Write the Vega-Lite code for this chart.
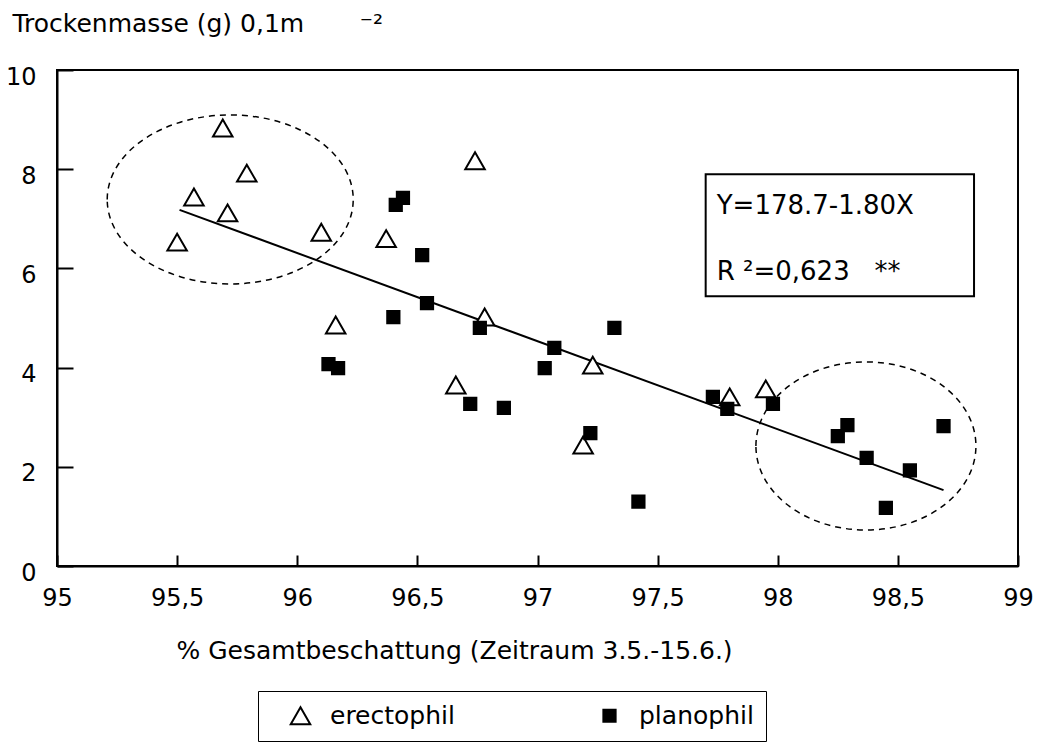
{
  "$schema": "https://vega.github.io/schema/vega-lite/v6.json",
  "width": 961,
  "height": 496,
  "autosize": {"type": "none"},
  "padding": {"left": 57, "top": 70, "right": 22, "bottom": 178},
  "config": {
    "font": "DejaVu Sans",
    "view": {"stroke": "black", "strokeWidth": 2},
    "axis": {
      "grid": false,
      "ticks": true,
      "domainColor": "black",
      "domainWidth": 2,
      "tickColor": "black",
      "tickWidth": 2,
      "labelColor": "black",
      "labelFont": "DejaVu Sans",
      "labelFontSize": 24,
      "titleColor": "black",
      "titleFont": "DejaVu Sans",
      "titleFontSize": 25,
      "titleFontWeight": "normal"
    }
  },
  "data": {
    "values": [
      {"x": 95.50, "y": 6.53, "type": "erectophil"},
      {"x": 95.57, "y": 7.44, "type": "erectophil"},
      {"x": 95.69, "y": 8.83, "type": "erectophil"},
      {"x": 95.71, "y": 7.12, "type": "erectophil"},
      {"x": 95.79, "y": 7.92, "type": "erectophil"},
      {"x": 96.10, "y": 6.73, "type": "erectophil"},
      {"x": 96.16, "y": 4.86, "type": "erectophil"},
      {"x": 96.37, "y": 6.60, "type": "erectophil"},
      {"x": 96.66, "y": 3.65, "type": "erectophil"},
      {"x": 96.74, "y": 8.17, "type": "erectophil"},
      {"x": 96.78, "y": 5.02, "type": "erectophil"},
      {"x": 97.19, "y": 2.44, "type": "erectophil"},
      {"x": 97.23, "y": 4.05, "type": "erectophil"},
      {"x": 97.80, "y": 3.41, "type": "erectophil"},
      {"x": 97.95, "y": 3.57, "type": "erectophil"},
      {"x": 96.13, "y": 4.07, "type": "planophil"},
      {"x": 96.17, "y": 3.99, "type": "planophil"},
      {"x": 96.40, "y": 5.02, "type": "planophil"},
      {"x": 96.41, "y": 7.28, "type": "planophil"},
      {"x": 96.44, "y": 7.42, "type": "planophil"},
      {"x": 96.52, "y": 6.27, "type": "planophil"},
      {"x": 96.54, "y": 5.30, "type": "planophil"},
      {"x": 96.72, "y": 3.27, "type": "planophil"},
      {"x": 96.76, "y": 4.80, "type": "planophil"},
      {"x": 96.86, "y": 3.19, "type": "planophil"},
      {"x": 97.03, "y": 3.99, "type": "planophil"},
      {"x": 97.07, "y": 4.40, "type": "planophil"},
      {"x": 97.22, "y": 2.68, "type": "planophil"},
      {"x": 97.32, "y": 4.80, "type": "planophil"},
      {"x": 97.42, "y": 1.30, "type": "planophil"},
      {"x": 97.73, "y": 3.41, "type": "planophil"},
      {"x": 97.79, "y": 3.17, "type": "planophil"},
      {"x": 97.98, "y": 3.27, "type": "planophil"},
      {"x": 98.25, "y": 2.62, "type": "planophil"},
      {"x": 98.29, "y": 2.84, "type": "planophil"},
      {"x": 98.37, "y": 2.18, "type": "planophil"},
      {"x": 98.45, "y": 1.17, "type": "planophil"},
      {"x": 98.55, "y": 1.93, "type": "planophil"},
      {"x": 98.69, "y": 2.82, "type": "planophil"}
    ]
  },
  "layer": [
    {
      "data": {"values": [{}]},
      "mark": {
        "type": "point",
        "shape": "M-1,0A1,0.687,0,1,1,1,0A1,0.687,0,1,1,-1,0",
        "size": 60516,
        "filled": false,
        "stroke": "black",
        "strokeWidth": 1.5,
        "strokeDash": [6, 5],
        "opacity": 1
      },
      "encoding": {"x": {"datum": 95.721}, "y": {"datum": 7.39}}
    },
    {
      "data": {"values": [{}]},
      "mark": {
        "type": "point",
        "shape": "M-1,0A1,0.764,0,1,1,1,0A1,0.764,0,1,1,-1,0",
        "size": 48400,
        "filled": false,
        "stroke": "black",
        "strokeWidth": 1.5,
        "strokeDash": [6, 5],
        "opacity": 1
      },
      "encoding": {"x": {"datum": 98.367}, "y": {"datum": 2.42}}
    },
    {
      "data": {"values": [{}]},
      "mark": {"type": "rect", "fillOpacity": 0, "stroke": "black", "strokeWidth": 2},
      "encoding": {
        "x": {"datum": 97.70},
        "x2": {"datum": 98.817},
        "y": {"datum": 7.90},
        "y2": {"datum": 5.44}
      }
    },
    {
      "data": {"values": [{}]},
      "mark": {"type": "rule", "color": "black", "strokeWidth": 2},
      "encoding": {
        "x": {"datum": 95.51},
        "y": {"datum": 7.18},
        "x2": {"datum": 98.69},
        "y2": {"datum": 1.53}
      }
    },
    {
      "mark": {"type": "point", "filled": true, "opacity": 1, "stroke": "black", "strokeWidth": 2},
      "encoding": {
        "x": {
          "field": "x",
          "type": "quantitative",
          "scale": {"domain": [95, 99], "nice": false, "zero": false},
          "axis": {
            "values": [95, 95.5, 96, 96.5, 97, 97.5, 98, 98.5, 99],
            "labelExpr": "replace(format(datum.value, '~g'), '.', ',')",
            "ticks": true,
            "tickSize": -11,
            "labelPadding": 31,
            "labelFlush": false,
            "title": "% Gesamtbeschattung (Zeitraum 3.5.-15.6.)",
            "titleAnchor": "start",
            "titleAlign": "left",
            "titleBaseline": "alphabetic",
            "titleX": 119,
            "titleY": 92
          }
        },
        "y": {
          "field": "y",
          "type": "quantitative",
          "scale": {"domain": [0, 10], "nice": false},
          "axis": {
            "values": [0, 2, 4, 6, 8, 10],
            "ticks": true,
            "tickSize": -16,
            "labelPadding": 37,
            "labelOffset": 7,
            "labelFlush": false,
            "title": "Trockenmasse (g) 0,1m\u00a0\u00a0\u00a0\u00a0\u00a0\u00a0\u00a0⁻²",
            "titleAngle": 0,
            "titleAlign": "left",
            "titleBaseline": "alphabetic",
            "titleX": -45,
            "titleY": -39
          }
        },
        "shape": {
          "field": "type",
          "type": "nominal",
          "scale": {"domain": ["erectophil", "planophil"], "range": ["triangle-up", "square"]},
          "legend": {
            "title": null,
            "orient": "none",
            "legendX": 201,
            "legendY": 621,
            "direction": "horizontal",
            "strokeColor": "black",
            "padding": 12,
            "labelFont": "DejaVu Sans",
            "labelFontSize": 25,
            "labelColor": "black",
            "symbolOffset": 18,
            "labelOffset": 17,
            "columnPadding": 124,
            "symbolStrokeWidth": 2
          }
        },
        "fill": {
          "field": "type",
          "type": "nominal",
          "scale": {"domain": ["erectophil", "planophil"], "range": ["white", "black"]},
          "legend": {
            "title": null,
            "orient": "none",
            "legendX": 201,
            "legendY": 621,
            "direction": "horizontal",
            "strokeColor": "black",
            "padding": 12,
            "labelFont": "DejaVu Sans",
            "labelFontSize": 25,
            "labelColor": "black",
            "symbolOffset": 18,
            "labelOffset": 17,
            "columnPadding": 124,
            "symbolStrokeWidth": 2
          }
        },
        "size": {
          "field": "type",
          "type": "ordinal",
          "scale": {"domain": ["erectophil", "planophil"], "range": [380, 150]},
          "legend": {
            "title": null,
            "orient": "none",
            "legendX": 201,
            "legendY": 621,
            "direction": "horizontal",
            "strokeColor": "black",
            "padding": 12,
            "labelFont": "DejaVu Sans",
            "labelFontSize": 25,
            "labelColor": "black",
            "symbolOffset": 18,
            "labelOffset": 17,
            "columnPadding": 124,
            "symbolStrokeWidth": 2
          }
        }
      }
    },
    {
      "data": {"values": [{}]},
      "mark": {"type": "text", "align": "left", "baseline": "middle", "font": "DejaVu Sans", "fontSize": 26, "color": "black"},
      "encoding": {
        "x": {"datum": 97.746},
        "y": {"datum": 7.26},
        "text": {"value": "Y=178.7-1.80X"}
      }
    },
    {
      "data": {"values": [{}]},
      "mark": {"type": "text", "align": "left", "baseline": "middle", "font": "DejaVu Sans", "fontSize": 26, "color": "black"},
      "encoding": {
        "x": {"datum": 97.746},
        "y": {"datum": 5.93},
        "text": {"value": "R\u00a0²=0,623\u00a0\u00a0\u00a0**"}
      }
    }
  ]
}
